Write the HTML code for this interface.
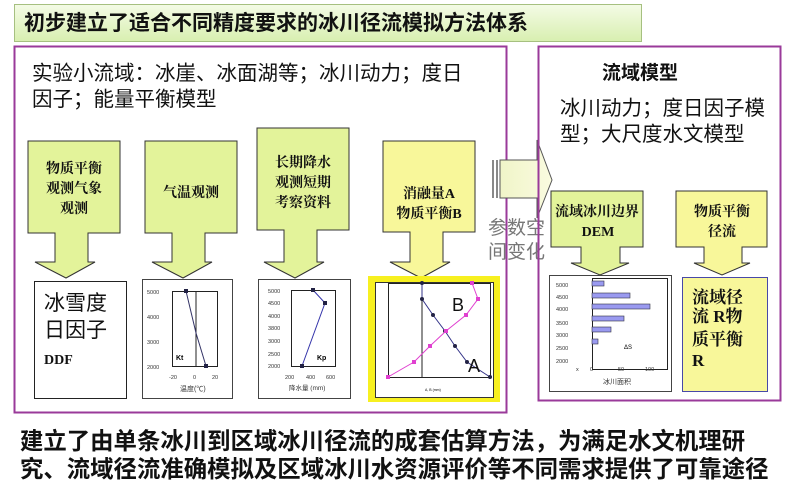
<!DOCTYPE html>
<html><head><meta charset="utf-8"><style>
body{margin:0;background:#fff;}
svg{display:block;font-family:"Liberation Sans","Noto Sans CJK SC",sans-serif;}
.b{font-family:"Liberation Serif","Noto Serif CJK SC",serif;font-weight:bold;}
</style></head><body>
<svg width="800" height="490" viewBox="0 0 800 490" xmlns="http://www.w3.org/2000/svg">
<defs>
<linearGradient id="tg" x1="0" y1="0" x2="0" y2="1"><stop offset="0" stop-color="#f4fbe6"/><stop offset="1" stop-color="#d8efb0"/></linearGradient>
<linearGradient id="ag" x1="0" y1="0" x2="1" y2="0"><stop offset="0" stop-color="#f0f5c8"/><stop offset="1" stop-color="#fafbe0"/></linearGradient>
</defs>
<rect x="14.5" y="4.5" width="627" height="37" fill="url(#tg)" stroke="#a6c080"/>
<text x="24" y="30" font-size="21" font-weight="bold" fill="#111">初步建立了适合不同精度要求的冰川径流模拟方法体系</text>

<rect x="14.5" y="46.5" width="492" height="366" fill="#fff" stroke="#9a3a9a" stroke-width="2"/>
<text x="32" y="80" font-size="20.5" fill="#111">实验小流域：冰崖、冰面湖等；冰川动力；度日</text>
<text x="32" y="106" font-size="20.5" fill="#111">因子；能量平衡模型</text>

<g stroke="#333" stroke-width="1">
<path d="M28 141H120V233H88V262H95L66 278L35 262H55V233H28Z" fill="#e3f39a"/>
<path d="M145 141H237V233H205V262H212L183 278L152 262H172V233H145Z" fill="#e3f39a"/>
<path d="M257 128H349V230H317V262H324L295 278L264 262H284V230H257Z" fill="#e3f39a"/>
<path d="M383 141H475V232H443V262H450L421 278L390 262H410V232H383Z" fill="#f8f79a"/>
</g>
<g class="b" font-size="14" fill="#111" text-anchor="middle">
<text x="74" y="173">物质平衡</text><text x="74" y="193">观测气象</text><text x="74" y="213">观测</text>
<text x="191" y="197">气温观测</text>
<text x="303" y="167">长期降水</text><text x="303" y="187">观测短期</text><text x="303" y="207">考察资料</text>
<text x="429" y="198">消融量A</text><text x="429" y="218">物质平衡B</text>
</g>

<rect x="34.5" y="281.5" width="92" height="117" fill="#fff" stroke="#222"/>
<text x="44" y="310" font-size="21" fill="#111">冰雪度</text>
<text x="44" y="337" font-size="21" fill="#111">日因子</text>
<text x="44" y="364" font-size="14" class="b" fill="#111">DDF</text>

<rect x="142.5" y="279.5" width="90" height="119" fill="#fff" stroke="#444"/>
<rect x="172.5" y="291.5" width="45" height="75" fill="#fff" stroke="#222"/>
<line x1="196" y1="291" x2="196" y2="366" stroke="#222"/>
<polyline points="186,291 196,333 206,366" fill="none" stroke="#336" stroke-width="1"/>
<g fill="#224"><rect x="184" y="289" width="4" height="4"/><rect x="204" y="364" width="4" height="4"/></g>
<g font-size="5.5" fill="#333"><text x="147" y="294">5000</text><text x="147" y="319">4000</text><text x="147" y="344">3000</text><text x="147" y="369">2000</text>
<text x="169" y="379">-20</text><text x="193" y="379">0</text><text x="212" y="379">20</text></g>
<text x="176" y="360" font-size="7" font-weight="bold">Kt</text>
<text x="180" y="391" font-size="7" fill="#333">温度(℃)</text>

<rect x="258.5" y="279.5" width="92" height="119" fill="#fff" stroke="#444"/>
<rect x="291.5" y="290.5" width="44" height="76" fill="#fff" stroke="#222"/>
<polyline points="313,290 325,303 302,366" fill="none" stroke="#33a" stroke-width="1"/>
<g fill="#224"><rect x="311" y="288" width="4" height="4"/><rect x="323" y="301" width="4" height="4"/><rect x="300" y="364" width="4" height="4"/></g>
<g font-size="5.5" fill="#333"><text x="268" y="293">5000</text><text x="268" y="305">4500</text><text x="268" y="318">4000</text><text x="268" y="330">3800</text><text x="268" y="343">3000</text><text x="268" y="356">2500</text><text x="268" y="368">2000</text>
<text x="285" y="379">200</text><text x="306" y="379">400</text><text x="326" y="379">600</text></g>
<text x="317" y="360" font-size="7" font-weight="bold">Kp</text>
<text x="289" y="390" font-size="6.5" fill="#333">降水量 (mm)</text>

<rect x="368" y="276" width="132" height="126" fill="#f7f020"/>
<rect x="375.5" y="282.5" width="118" height="115" fill="#fff" stroke="#333"/>
<rect x="388.5" y="283.5" width="102" height="94" fill="#fff" stroke="#222"/>
<line x1="422" y1="283" x2="422" y2="377" stroke="#222"/>
<polyline points="422,283 422,299 433,315 445,331 455,346 467,362 490,377" fill="none" stroke="#338" stroke-width="1"/>
<polyline points="472,283 478,299 466,315 446,331 430,346 414,362 388,377" fill="none" stroke="#e040d0" stroke-width="1"/>
<g fill="#224"><circle cx="422" cy="283" r="2"/><circle cx="422" cy="299" r="2"/><circle cx="433" cy="315" r="2"/><circle cx="445" cy="331" r="2"/><circle cx="455" cy="346" r="2"/><circle cx="467" cy="362" r="2"/><circle cx="490" cy="377" r="2"/></g>
<g fill="#e040d0"><rect x="470" y="281" width="4" height="4"/><rect x="476" y="297" width="4" height="4"/><rect x="464" y="313" width="4" height="4"/><rect x="444" y="329" width="4" height="4"/><rect x="428" y="344" width="4" height="4"/><rect x="412" y="360" width="4" height="4"/><rect x="386" y="375" width="4" height="4"/></g>
<text x="452" y="311" font-size="18" fill="#111">B</text>
<text x="468" y="372" font-size="18" fill="#111">A</text>
<text x="425" y="391" font-size="3.5">A, B (mm)</text>

<path d="M500 160H537V140L552 180L537 218V198H500Z" fill="url(#ag)" stroke="#555"/>
<rect x="492" y="160" width="2" height="38" fill="#888"/><rect x="496" y="160" width="2" height="38" fill="#888"/>
<text x="488" y="234" font-size="19" fill="#777">参数空</text>
<text x="488" y="258" font-size="19" fill="#777">间变化</text>

<rect x="538.5" y="46.5" width="242" height="354" fill="none" stroke="#9a3a9a" stroke-width="2"/>
<text x="602" y="79" font-size="19" font-weight="bold" fill="#111">流域模型</text>
<text x="560" y="115" font-size="20.5" fill="#111">冰川动力；度日因子模</text>
<text x="560" y="141" font-size="20.5" fill="#111">型；大尺度水文模型</text>
<path d="M551 191H643V247H620V263H629L600 275L571 263H581V247H551Z" fill="#e3f39a" stroke="#333"/>
<path d="M676 191H767V247H742V263H750L722 275L694 263H704V247H676Z" fill="#f8f79a" stroke="#333"/>
<g class="b" font-size="14" fill="#111" text-anchor="middle">
<text x="597" y="216">流域冰川边界</text><text x="598" y="236">DEM</text>
<text x="722" y="216">物质平衡</text><text x="722" y="236">径流</text>
</g>
<rect x="549.5" y="275.5" width="122" height="116" fill="#fff" stroke="#444"/>
<rect x="592.5" y="278.5" width="75" height="91" fill="#fff" stroke="#222"/>
<g fill="#9a9af0" stroke="#334" stroke-width="0.6"><rect x="592" y="281" width="12" height="5"/><rect x="592" y="293" width="38" height="5"/><rect x="592" y="304" width="58" height="5"/><rect x="592" y="316" width="32" height="5"/><rect x="592" y="327" width="19" height="5"/><rect x="592" y="339" width="6" height="5"/></g>
<g font-size="5.5" fill="#333"><text x="556" y="287">5000</text><text x="556" y="299">4500</text><text x="556" y="311">4000</text><text x="556" y="325">3500</text><text x="556" y="337">3000</text><text x="556" y="350">2500</text><text x="556" y="363">2000</text>
<text x="576" y="371">x</text><text x="590" y="371">0</text><text x="618" y="371">50</text><text x="645" y="371">100</text></g>
<text x="624" y="349" font-size="6">ΔS</text>
<text x="603" y="384" font-size="7" fill="#333">冰川面积</text>
<rect x="682.5" y="277.5" width="85" height="114" fill="#f8f79a" stroke="#4848a8"/>
<g class="b" font-size="17" fill="#111"><text x="692" y="303">流域径</text><text x="692" y="322">流 R物</text><text x="692" y="345">质平衡</text><text x="692" y="366">R</text></g>

<text x="20" y="449" font-size="23.4" font-weight="bold" fill="#111">建立了由单条冰川到区域冰川径流的成套估算方法，为满足水文机理研</text>
<text x="20" y="477" font-size="23.4" font-weight="bold" fill="#111">究、流域径流准确模拟及区域冰川水资源评价等不同需求提供了可靠途径</text>
</svg>
</body></html>
